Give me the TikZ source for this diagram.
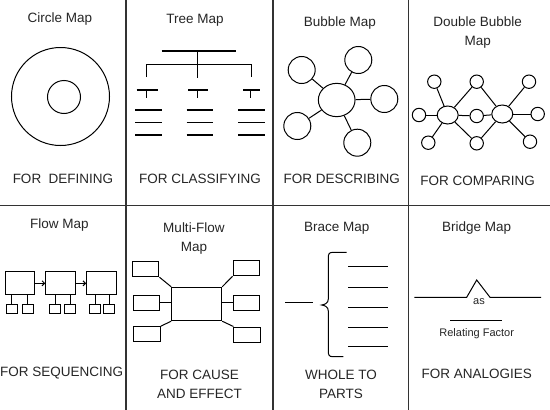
\documentclass[tikz,border=0pt]{standalone}
\usepackage{fontspec}
\setmainfont{Liberation Sans}
\usetikzlibrary{shapes.geometric,arrows.meta}
\begin{document}
\begin{tikzpicture}[x=1pt,y=-1pt,
  grid/.style={line width=1.4pt,draw=black!80},
  ln/.style={line width=1pt,draw=black},
  tln/.style={line width=1.3pt,draw=black},
  title/.style={font=\fontsize{13.5}{19}\selectfont,text=black!85,inner sep=0pt,align=center},
  smalltxt/.style={font=\fontsize{11}{13}\selectfont,text=black!85,inner sep=0pt},
  bub/.style={circle,draw,line width=1pt,inner sep=0pt,minimum size=#1},
  ell/.style={ellipse,draw,line width=1pt,inner sep=0pt,minimum width=#1},
  box/.style={rectangle,draw,line width=1pt,inner sep=0pt},
  arr/.style={ln,-{Straight Barb[length=2.5pt,width=5pt]}}
]
\useasboundingbox (0,0) rectangle (550,410);
\fill[white] (0,0) rectangle (550,410);

% grid
\draw[grid] (126,0) -- (126,410);
\draw[grid] (273,0) -- (273,410);
\draw[grid] (408.5,0) -- (408.5,410);
\draw[grid] (0,205.5) -- (550,205.5);

% ---------- Circle Map
\node[title] (t1) at (60,19) {Circle Map};
\node[bub=98] (co) at (60.5,96.5) {};
\node[bub=33] (ci) at (64,97) {};
\node[title] (u1) at (63,179) {FOR\ \ DEFINING};

% ---------- Tree Map
\node[title] (t2) at (195,20) {Tree Map};
\draw[tln] (161.7,51) -- (236,51);
\draw[tln] (197.7,51) -- (197.7,78);
\draw[tln] (146.7,77) -- (146.7,64.3) -- (251.7,64.3) -- (251.7,77);
\foreach \a/\b/\s/\c/\d in {136.7/158.3/146.7/135/162.3, 188.3/208.3/197.7/186.7/213.3, 243.3/260/250.7/238.3/265}{
  \draw[tln] (\a,90) -- (\b,90);
  \draw[tln] (\s,90) -- (\s,98);
  \draw[tln] (\c,110) -- (\d,110);
  \draw[tln] (\c,122.3) -- (\d,122.3);
  \draw[tln] (\c,135) -- (\d,135);
}
\node[title] (u2) at (200,178.5) {FOR CLASSIFYING};

% ---------- Bubble Map
\node[title] (t3) at (340,23) {Bubble Map};
\node[ell=36.7,minimum height=33.3] (bc) at (336.7,100) {};
\node[bub=27] (b1) at (301.7,70) {};
\node[bub=27] (b2) at (358.3,60) {};
\node[bub=27] (b3) at (384.3,99) {};
\node[bub=27] (b4) at (297.3,126) {};
\node[bub=27] (b5) at (357.3,142.7) {};
\foreach \i in {1,...,5} \draw[ln] (bc) -- (b\i);
\node[title] (u3) at (341.7,179) {FOR DESCRIBING};

% ---------- Double Bubble Map
\node[title] (t4) at (477.7,33) {Double Bubble\\Map};
\node[ell=21,minimum height=18] (dl) at (447.7,115) {};
\node[ell=21,minimum height=18] (dr) at (502.3,114) {};
\node[bub=13.4] (d1) at (434.3,81.7) {};
\node[bub=13.4] (d2) at (419,115) {};
\node[bub=13.4] (d3) at (428.3,142.7) {};
\node[bub=13.4] (m1) at (476.7,81.7) {};
\node[bub=13.4] (m2) at (476.7,116) {};
\node[bub=13.4] (m3) at (476.7,143.3) {};
\node[bub=13.4] (e1) at (529,81.7) {};
\node[bub=13.4] (e2) at (537.7,114) {};
\node[bub=13.4] (e3) at (530,141.7) {};
\foreach \n in {d1,d2,d3,m1,m2,m3} \draw[ln] (dl) -- (\n);
\foreach \n in {e1,e2,e3,m1,m2,m3} \draw[ln] (dr) -- (\n);
\node[title] (u4) at (477.7,181) {FOR COMPARING};

% ---------- Flow Map
\node[title] (t5) at (59.3,225) {Flow Map};
\node[box,minimum width=28.6,minimum height=23.3] (f1) at (20,283.3) {};
\node[box,minimum width=29.3,minimum height=23.3] (f2) at (60.4,283.3) {};
\node[box,minimum width=30,minimum height=23.3] (f3) at (101.7,283.3) {};
\draw[arr] (f1) -- (f2);
\draw[arr] (f2) -- (f3);
\foreach \n/\x/\p in {s1a/11.5/f1, s1b/27.8/f1, s2a/55.3/f2, s2b/70.3/f2, s3a/95.3/f3, s3b/109.2/f3}{
  \node[box,minimum width=11,minimum height=9.3] (\n) at (\x,308.7) {};
  \draw[ln] (\n.north) -- (\n.north |- \p.south);
}
\node[title] (u5) at (61.7,373.5) {FOR SEQUENCING};

% ---------- Multi-Flow Map
\node[title] (t6) at (194,239) {Multi-Flow\\Map};
\node[box,minimum width=50,minimum height=33.4] (mc) at (196.7,304) {};
\node[box,minimum width=26.5,minimum height=15] (l1) at (145.7,269.2) {};
\node[box,minimum width=26.5,minimum height=14.5] (l2) at (146.7,302.9) {};
\node[box,minimum width=26.5,minimum height=15] (l3) at (147,334.2) {};
\node[box,minimum width=26.5,minimum height=15] (r1) at (246.3,268.3) {};
\node[box,minimum width=26.5,minimum height=15] (r2) at (246.3,302.5) {};
\node[box,minimum width=26.5,minimum height=15] (r3) at (247.2,334.5) {};
\draw[ln] (l1.south east) -- (mc.north west);
\draw[ln] (l2.east) -- (l2.east -| mc.west);
\draw[ln] (l3.north east) -- (mc.south west);
\draw[ln] (mc.north east) -- (r1.south west);
\draw[ln] (r2.west -| mc.east) -- (r2.west);
\draw[ln] (mc.south east) -- (r3.north west);
\node[title] (u6) at (199.5,384) {FOR CAUSE\\AND EFFECT};

% ---------- Brace Map
\node[title] (t7) at (336.7,228.5) {Brace Map};
\draw[ln] (285,302.7) -- (313.3,302.7);
\draw[ln] (346.7,252.3) -- (333,252.3) .. controls (329,252.3) and (328.3,254) .. (328.3,258)
  -- (328.3,299) .. controls (328.3,303) and (325,304.5) .. (321.7,305)
  .. controls (325,305.5) and (328.3,307) .. (328.3,311)
  -- (328.3,351) .. controls (328.3,355) and (329,356.7) .. (333,356.7) -- (343.3,356.7);
\foreach \y in {266.7,287.7,307.7,327.3,346.7} \draw[ln] (348.3,\y) -- (388.3,\y);
\node[title] (u7) at (341,384) {WHOLE TO\\PARTS};

% ---------- Bridge Map
\node[title] (t8) at (476.7,228.5) {Bridge Map};
\draw[ln] (414.3,297.3) -- (466.7,297.3) -- (476.7,280) -- (490,297.3) -- (541,297.3);
\node[smalltxt] (as) at (479,302) {as};
\draw[ln] (450,320) -- (501.7,320);
\node[smalltxt] (rf) at (476.7,333.5) {Relating Factor};
\node[title] (u8) at (476.7,373.5) {FOR ANALOGIES};
\end{tikzpicture}
\end{document}
